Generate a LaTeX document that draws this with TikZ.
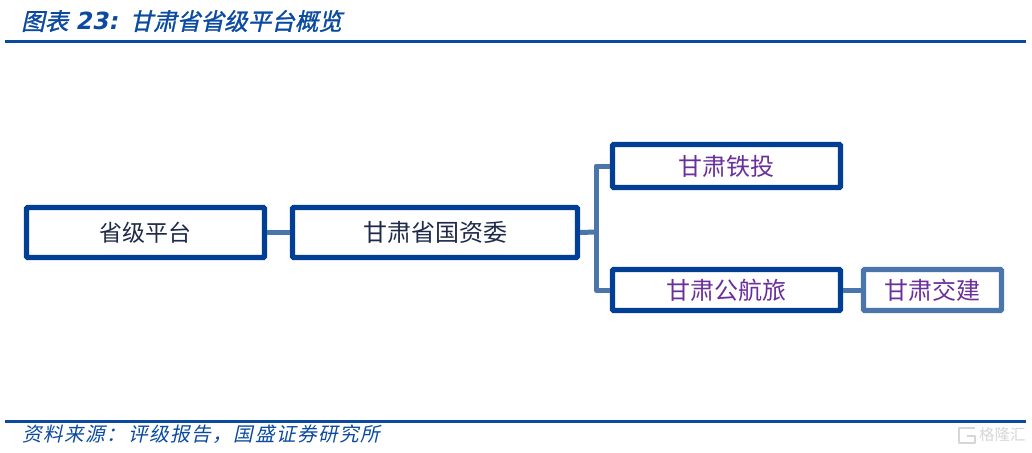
\documentclass[tikz,border=0pt]{standalone}
\usepackage{fontspec}
\setmainfont{DejaVu Sans}
\newfontfamily\cjk{Noto Sans CJK SC}
\newfontfamily\cjkslant[FakeSlant=0.22,LetterSpace=8]{Noto Sans CJK SC}
\newfontfamily\cjkslantbold[FakeSlant=0.22,FakeBold=1.2]{Noto Sans CJK SC}
\newfontfamily\latinslant[FakeSlant=0.2]{DejaVu Sans Bold}
\definecolor{darkblue}{HTML}{003F94}
\definecolor{midblue}{HTML}{4A76AC}
\definecolor{inkdark}{HTML}{1F2A4A}
\definecolor{purp}{HTML}{6B2F9A}
\definecolor{rulecol}{HTML}{0B4AA0}
\tikzset{
  x=1pt,y=-1pt,
  orgbox/.style={draw=darkblue,line width=5.2pt,fill=white,rounded corners=1pt,inner sep=0pt,align=center,font=\cjk\fontsize{24}{24}\selectfont},
  orgboxlight/.style={orgbox,draw=midblue},
  link/.style={draw=midblue,line width=5pt,line join=round},
  hrule/.style={draw=rulecol,line width=3pt}
}
\begin{document}
\begin{tikzpicture}
\useasboundingbox (0,0) rectangle (1032,452);
\coordinate (t1) at (5,42); \coordinate (t2) at (1026,42);
\coordinate (b1) at (5,421); \coordinate (b2) at (1026,421);
\draw[hrule] (t1) -- (t2);
\draw[hrule] (b1) -- (b2);
\node[anchor=west,text=rulecol,inner sep=0pt] (title) at (21,21)
  {\cjkslantbold\fontsize{23.6}{24}\selectfont 图表\hspace{7pt}{\latinslant\fontsize{23.6}{24}\selectfont 23:}\hspace{12pt}甘肃省省级平台概览};
\node[anchor=west,text=rulecol,inner sep=0pt] (source) at (22,434)
  {\cjkslant\fontsize{19.6}{20}\selectfont 资料来源：评级报告，国盛证券研究所};
\coordinate (trunk) at (596,232);
\node[orgbox,minimum width=238pt,minimum height=50pt,text=inkdark] (a) at (145.5,232.5) {\fontsize{23}{23}\selectfont 省级平台};
\node[orgbox,minimum width=285pt,minimum height=50pt,text=inkdark] (b) at (435,232.5) {甘肃省国资委};
\node[orgbox,minimum width=228pt,minimum height=43pt,text=purp] (c) at (726.5,166) {甘肃铁投};
\node[orgbox,minimum width=228pt,minimum height=41pt,text=purp] (d) at (726.5,290) {甘肃公航旅};
\node[orgboxlight,minimum width=138pt,minimum height=41pt,text=purp] (e) at (932.5,290) {甘肃交建};
\draw[link] (a.east) -- (b.west);
\draw[link] (b.east) -- (trunk);
\draw[link] (c.west) -| (trunk) |- (d.west);
\draw[link] (d.east) -- (e.west);
% watermark
\node[anchor=west,inner sep=0pt,text=black!16] (wm) at (979,435) {\cjk\fontsize{15.5}{16}\selectfont 格隆汇};
\draw[black!16,line width=1.8pt,line join=round] (975,428) -- (959,428) -- (959,443) -- (975,443) -- (975,436) -- (967,436);
\end{tikzpicture}
\end{document}
